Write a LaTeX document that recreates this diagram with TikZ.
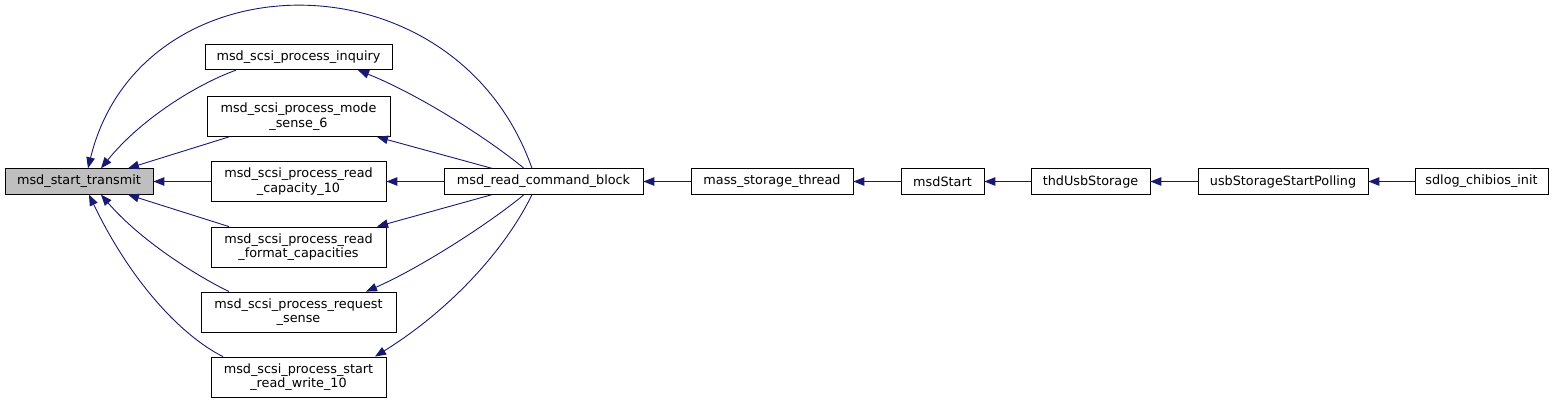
\documentclass[tikz,border=0pt]{standalone}
\usepackage{fontspec}
\setmainfont{DejaVu Sans}
\usetikzlibrary{arrows.meta}
\definecolor{edgeblue}{HTML}{191970}
\definecolor{fillgray}{HTML}{BFBFBF}
\begin{document}
\begin{tikzpicture}[x=1pt,y=-1pt,
  box/.style={draw=black, line width=0.8pt, fill=white, inner sep=0pt, align=center,
    font=\fontsize{12.8}{14.5}\selectfont, minimum height=25.5pt},
  box2/.style={box, minimum height=40pt},
  e/.style={draw=edgeblue, line width=0.9pt, {Triangle[length=11pt,width=8.5pt]}-}]
\useasboundingbox (0,0) rectangle (1555,403);
% nodes
\node[box, fill=fillgray, minimum width=148pt] (st) at (79,181.5) {msd\_start\_transmit};
\node[box, minimum width=187pt] (inq) at (298.5,57) {msd\_scsi\_process\_inquiry};
\node[box2, minimum width=183pt] (mode) at (298.5,116.5) {msd\_scsi\_process\_mode\\\_sense\_6};
\node[box2, minimum width=175pt] (cap) at (298.5,181.5) {msd\_scsi\_process\_read\\\_capacity\_10};
\node[box2, minimum width=175pt] (fmt) at (298.5,247) {msd\_scsi\_process\_read\\\_format\_capacities};
\node[box2, minimum width=195pt] (req) at (298.5,312) {msd\_scsi\_process\_request\\\_sense};
\node[box2, minimum width=175pt] (srw) at (298.5,377) {msd\_scsi\_process\_start\\\_read\_write\_10};
\node[box, minimum width=199pt] (rcb) at (543.5,181.5) {msd\_read\_command\_block};
\node[box, minimum width=162pt] (mst) at (772,181.5) {mass\_storage\_thread};
\node[box, minimum width=83pt] (ms) at (942.5,181.5) {msdStart};
\node[box, minimum width=119pt] (thd) at (1090.5,181.5) {thdUsbStorage};
\node[box, minimum width=170pt] (usb) at (1283,181.5) {usbStorageStartPolling};
\node[box, minimum width=133pt] (sdl) at (1481.5,181.5) {sdlog\_chibios\_init};
% edges into msd_start_transmit
\draw[e] ([xshift=22pt]st.north) .. controls (140,120) and (195,85) .. ([xshift=-62.5pt]inq.south);
\draw[e] ([xshift=49pt]st.north) -- ([xshift=-69.5pt]mode.south);
\draw[e] (st.east) -- (cap.west);
\draw[e] ([xshift=49pt]st.south) -- ([xshift=-69.5pt]fmt.north);
\draw[e] ([xshift=22pt]st.south) .. controls (140,240) and (195,275) .. ([xshift=-69.5pt]req.north);
\draw[e] ([xshift=10pt]st.south) .. controls (130,280) and (180,335) .. ([xshift=-75.5pt]srw.north);
\draw[e] ([xshift=9pt]st.north) .. controls (140,-45) and (455,-50) .. ([xshift=-11.5pt]rcb.north);
% edges from msd_read_command_block
\draw[e] ([xshift=59.5pt]inq.south) .. controls (420,95) and (490,140) .. ([xshift=-19.5pt]rcb.north);
\draw[e] ([xshift=78.5pt]mode.south) -- ([xshift=-51.5pt]rcb.north);
\draw[e] (cap.east) -- (rcb.west);
\draw[e] ([xshift=78.5pt]fmt.north) -- ([xshift=-51.5pt]rcb.south);
\draw[e] ([xshift=67.5pt]req.north) .. controls (420,268) and (490,223) .. ([xshift=-19.5pt]rcb.south);
\draw[e] ([xshift=76.5pt]srw.north) .. controls (450,310) and (505,250) .. ([xshift=-11.5pt]rcb.south);
% chain
\draw[e] (rcb.east) -- (mst.west);
\draw[e] (mst.east) -- (ms.west);
\draw[e] (ms.east) -- (thd.west);
\draw[e] (thd.east) -- (usb.west);
\draw[e] (usb.east) -- (sdl.west);
\end{tikzpicture}
\end{document}
